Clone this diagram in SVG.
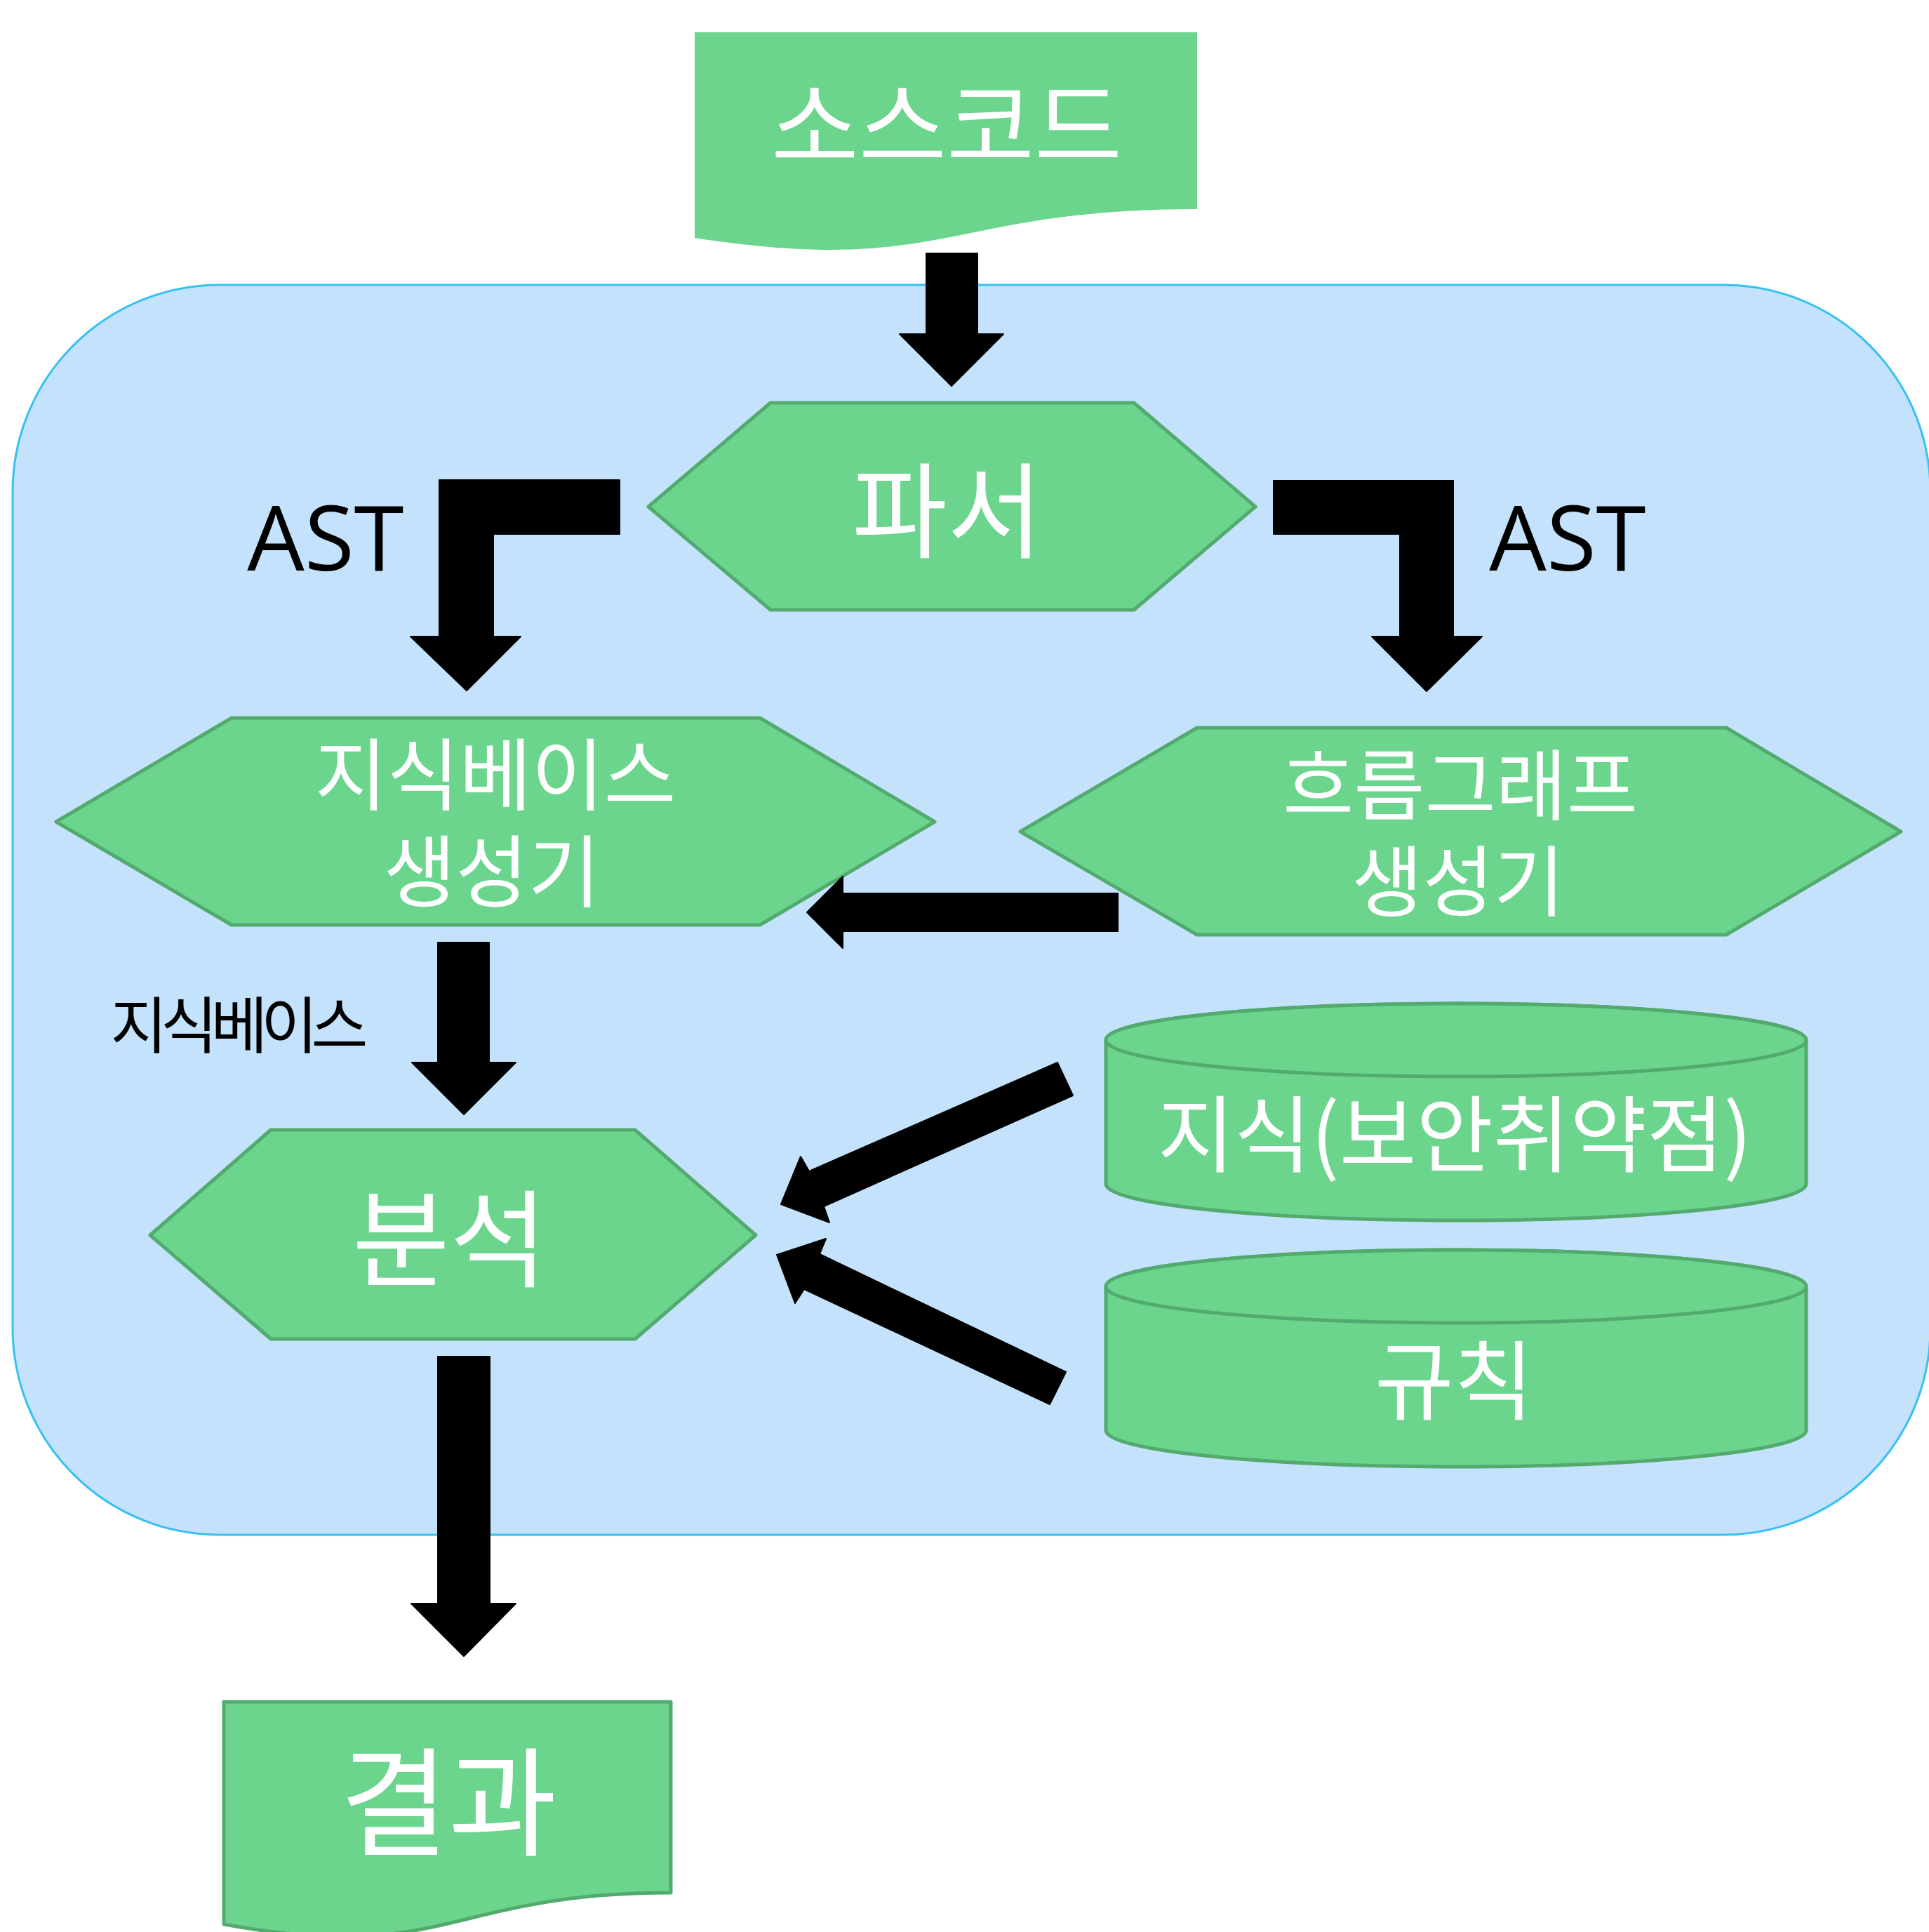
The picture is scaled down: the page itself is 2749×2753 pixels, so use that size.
<svg xmlns="http://www.w3.org/2000/svg" width="2749" height="2753" viewBox="0 0 2749 2753">
<style>
.bg{fill:#C4E2FC;stroke:#36C0F4;stroke-width:3}
.node{fill:#6BD58D;stroke:#52AA6E;stroke-width:5;stroke-linejoin:round}
.nostroke{fill:#6BD58D;stroke:none}
.lbl{font-family:"Noto Sans CJK KR","Noto Sans",sans-serif;fill:#FFFFFF;text-anchor:middle}
.blk{font-family:"Noto Sans CJK KR","Noto Sans",sans-serif;fill:#000000;text-anchor:middle}
.ast{font-family:"Open Sans","Noto Sans",sans-serif;fill:#000000;text-anchor:middle;font-size:129px}
.arrow{fill:#000000;stroke:#000000;stroke-width:2;stroke-linejoin:round}
</style>
<rect class="bg" x="18" y="406" width="2733" height="1781" rx="295" ry="295"/>

<g id="source-code">
<path class="nostroke" d="M990,46 H1706 V298 C1348,298 1348,394 990,339 Z"/>
<text class="lbl" x="1349" y="230" font-size="136">소스코드</text>
</g>

<g id="parser">
<polygon class="node" points="924,722 1098,574 1616,574 1789,722 1616,869 1098,869"/>
<text class="lbl" x="1350" y="783" font-size="148">파서</text>
</g>

<g id="kb-generator">
<polygon class="node" points="80,1171 330,1023 1083,1023 1332,1171 1083,1318 330,1318"/>
<text class="lbl" font-size="112"><tspan x="706" y="1146">지식베이스</tspan><tspan x="701" y="1284">생성기</tspan></text>
</g>

<g id="flowgraph-generator">
<polygon class="node" points="1454,1185 1706,1037 2460,1037 2709,1185 2460,1332 1706,1332"/>
<text class="lbl" font-size="110"><tspan x="2081" y="1160">흐름그래프</tspan><tspan x="2078" y="1297">생성기</tspan></text>
</g>

<g id="knowledge-db">
<path class="node" d="M1576,1482 A499,52 0 0,1 2574,1482 V1687 A499,52 0 0,1 1576,1687 Z"/>
<ellipse class="node" cx="2075" cy="1482" rx="499" ry="52"/>
<text class="lbl" x="2073" y="1661" font-size="119">지식(보안취약점)</text>
</g>

<g id="rules-db">
<path class="node" d="M1576,1833 A499,52 0 0,1 2574,1833 V2038 A499,52 0 0,1 1576,2038 Z"/>
<ellipse class="node" cx="2075" cy="1833" rx="499" ry="52"/>
<text class="lbl" x="2072" y="2013" font-size="123">규칙</text>
</g>

<g id="analysis">
<polygon class="node" points="214,1760 386,1610 905,1610 1077,1760 905,1908 386,1908"/>
<text class="lbl" x="641" y="1822" font-size="151">분석</text>
</g>

<g id="result">
<path class="node" d="M319,2425 H956 V2697 C637.5,2697 637.5,2800 319,2742 Z"/>
<text class="lbl" x="639" y="2631" font-size="168">결과</text>
</g>

<g id="connectors">
<polygon class="arrow" points="1320,361 1393,361 1393,476 1430,476 1356,550 1282,476 1320,476"/>
<polygon class="arrow" points="883,684 626,684 626,907 585,907 665,984 742,907 703,907 703,761 883,761"/>
<polygon class="arrow" points="1815,685 2071,685 2071,907 2112,907 2033,985 1955,907 1995,907 1995,761 1815,761"/>
<polygon class="arrow" points="1593,1273 1593,1327 1201,1327 1201,1351 1150,1300 1201,1249 1201,1273"/>
<polygon class="arrow" points="624,1343 697,1343 697,1514 735,1514 661,1588 587,1514 624,1514"/>
<polygon class="arrow" points="1507,1514 1529,1561 1174,1719 1182,1742 1113,1716 1141,1648 1153,1669"/>
<polygon class="arrow" points="1168,1787 1519,1955 1496,2001 1146,1837 1133,1857 1107,1788 1177,1765"/>
<polygon class="arrow" points="624,1933 698,1933 698,2285 735,2285 661,2360 586,2285 624,2285"/>
<text class="ast" x="464" y="813">AST</text>
<text class="ast" x="2234" y="813">AST</text>
<text class="blk" x="341" y="1493" font-size="88" textLength="367" lengthAdjust="spacing">지식베이스</text>
</g>
</svg>
